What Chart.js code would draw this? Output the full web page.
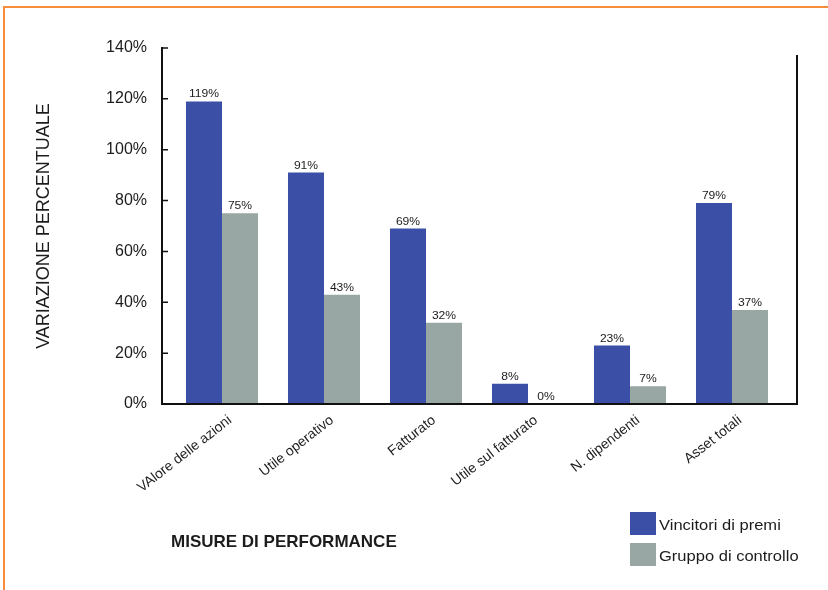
<!DOCTYPE html>
<html>
<head>
<meta charset="utf-8">
<script src="https://cdn.jsdelivr.net/npm/chart.js@4"></script>
<style>
  html, body { margin: 0; padding: 0; background: #fff; }
  #wrap { width: 828px; height: 590px; }
</style>
</head>
<body>
<div id="wrap"><canvas id="perfChart" width="828" height="590"></canvas></div>
<script>
// categories and values
const categories = ["VAlore delle azioni", "Utile operativo", "Fatturato", "Utile sul fatturato", "N. dipendenti", "Asset totali"];
const winners = [119, 91, 69, 8, 23, 79];
const control = [75, 43, 32, 0, 7, 37];
const seriesNames = ["Vincitori di premi", "Gruppo di controllo"];
const yTicks = [0, 20, 40, 60, 80, 100, 120, 140];

const FONT = "'Liberation Sans', Arial, Helvetica, sans-serif";
const BLUE = "#3a4fa5";
const GREY = "#98a6a4";
const INK = "#1c1c1c";

// draws text a bit wider than the font, like the original print
function wideText(ctx, text, x, y, sx) {
  ctx.save();
  ctx.translate(x, y);
  ctx.scale(sx, 1);
  ctx.fillText(text, 0, 0);
  ctx.restore();
}

// frame, axis lines, value labels and legend
const decorPlugin = {
  id: "decor",
  afterDraw(chart) {
    const ctx = chart.ctx;
    const area = chart.chartArea;
    const y = chart.scales.y;
    const axisX = area.left - 9;
    const rightX = area.right + 14;
    const y0 = y.getPixelForValue(0);

    ctx.save();
    // orange page frame
    ctx.strokeStyle = "#f58d3d";
    ctx.lineWidth = 2;
    ctx.beginPath();
    ctx.moveTo(3, 7); ctx.lineTo(828, 7);
    ctx.moveTo(4, 6); ctx.lineTo(4, 590);
    ctx.stroke();

    // axis lines
    ctx.strokeStyle = "#111";
    ctx.lineWidth = 2;
    ctx.beginPath();
    ctx.moveTo(axisX, y.getPixelForValue(140) - 1);
    ctx.lineTo(axisX, y0);
    ctx.lineTo(rightX, y0);
    ctx.lineTo(rightX, area.top + 7);
    ctx.stroke();
    ctx.lineWidth = 1.5;
    ctx.beginPath();
    yTicks.forEach(v => {
      const py = y.getPixelForValue(v);
      ctx.moveTo(axisX, py);
      ctx.lineTo(axisX + 6, py);
    });
    ctx.stroke();

    // value labels above bars
    ctx.fillStyle = INK;
    ctx.font = "11px " + FONT;
    ctx.textAlign = "center";
    ctx.textBaseline = "alphabetic";
    chart.data.datasets.forEach((ds, i) => {
      chart.getDatasetMeta(i).data.forEach((bar, j) => {
        wideText(ctx, ds.data[j] + "%", bar.x, bar.y - 4, 1.1);
      });
    });

    // legend
    ctx.font = "14px " + FONT;
    ctx.textAlign = "left";
    ctx.textBaseline = "middle";
    chart.data.datasets.forEach((ds, i) => {
      const ly = 512 + i * 31;
      ctx.fillStyle = ds.backgroundColor;
      ctx.fillRect(630, ly, 26, 23);
      ctx.fillStyle = INK;
      wideText(ctx, ds.label, 659, ly + 14, 1.18);
    });
    ctx.restore();
  }
};

const ctx = document.getElementById("perfChart").getContext("2d");
new Chart(ctx, {
  type: "bar",
  data: {
    labels: categories,
    datasets: [
      { label: seriesNames[0], data: winners, backgroundColor: BLUE },
      { label: seriesNames[1], data: control, backgroundColor: GREY }
    ]
  },
  options: {
    responsive: false,
    animation: false,
    layout: { padding: { left: 4, right: 45, top: 48, bottom: 10 } },
    datasets: { bar: { categoryPercentage: 0.706, barPercentage: 1.0 } },
    plugins: {
      legend: { display: false },
      tooltip: { enabled: false }
    },
    scales: {
      x: {
        grid: { display: false },
        border: { display: false },
        ticks: {
          minRotation: 38,
          maxRotation: 38,
          padding: 0,
          labelOffset: 8,
          color: INK,
          font: { family: FONT, size: 14 }
        },
        title: {
          display: true,
          text: "MISURE DI PERFORMANCE",
          align: "start",
          color: INK,
          font: { family: FONT, size: 17, weight: "bold" },
          padding: { top: 0, bottom: 27 }
        },
        afterFit(scale) { scale.height = 176; }
      },
      y: {
        min: 0,
        max: 140,
        grid: { display: false },
        border: { display: false },
        ticks: {
          stepSize: 20,
          padding: 16,
          color: INK,
          font: { family: FONT, size: 16 },
          callback: v => v + "%"
        },
        title: {
          display: true,
          text: "VARIAZIONE PERCENTUALE",
          color: INK,
          font: { family: FONT, size: 18 },
          padding: { top: 29, bottom: 0 }
        },
        afterFit(scale) { scale.width = 167; }
      }
    }
  },
  plugins: [decorPlugin]
});
</script>
</body>
</html>
